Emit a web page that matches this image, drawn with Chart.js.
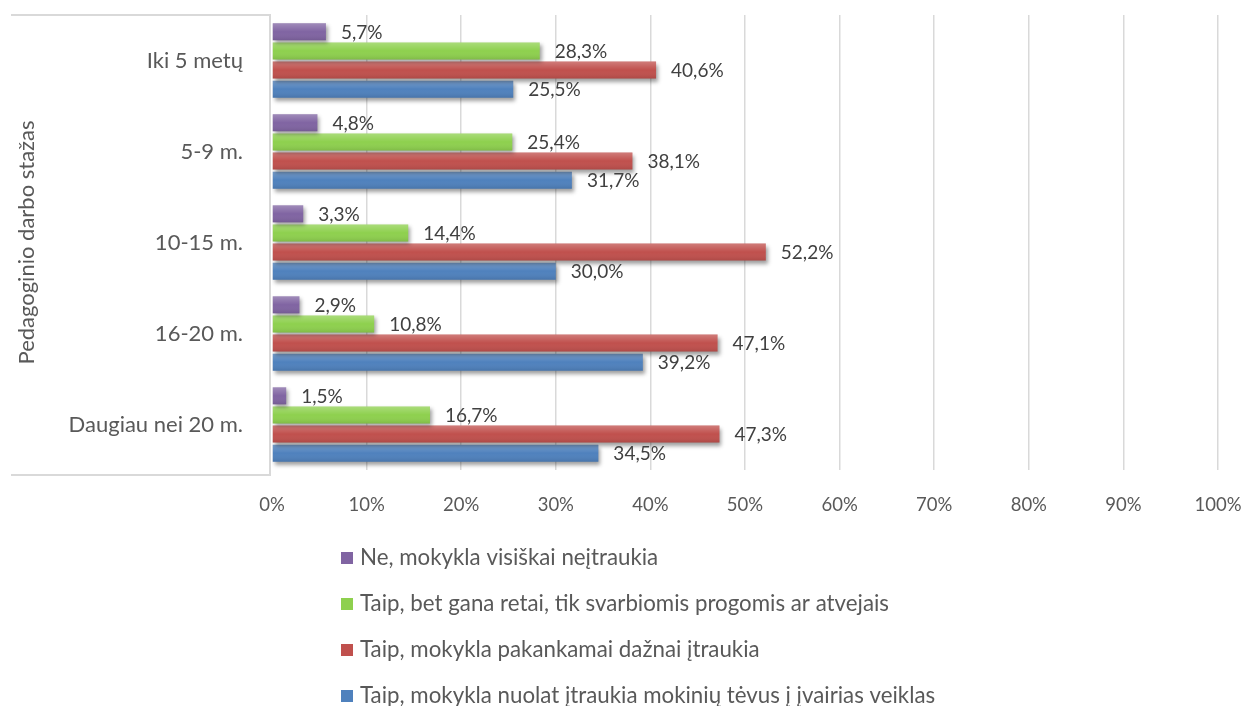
<!DOCTYPE html>
<html>
<head>
<meta charset="utf-8">
<script src="https://cdn.jsdelivr.net/npm/chart.js@4.4.1/dist/chart.umd.min.js"></script>
<style>
  html, body { margin: 0; padding: 0; background: #ffffff; }
  #wrap { width: 1249px; height: 706px; position: relative; }
</style>
</head>
<body>
<div id="wrap"><canvas id="c" width="1249" height="706"></canvas></div>
<script>
const categories = ['Iki 5 metų', '5-9 m.', '10-15 m.', '16-20 m.', 'Daugiau nei 20 m.'];
const seriesNames = [
  'Ne, mokykla visiškai neįtraukia',
  'Taip, bet gana retai, tik svarbiomis progomis ar atvejais',
  'Taip, mokykla pakankamai dažnai įtraukia',
  'Taip, mokykla nuolat įtraukia mokinių tėvus į įvairias veiklas'
];
const neValues      = [5.7, 4.8, 3.3, 2.9, 1.5];
const retaiValues   = [28.3, 25.4, 14.4, 10.8, 16.7];
const dazniValues   = [40.6, 38.1, 52.2, 47.1, 47.3];
const nuolatValues  = [25.5, 31.7, 30.0, 39.2, 34.5];
const xTicks = [0, 10, 20, 30, 40, 50, 60, 70, 80, 90, 100];
const axisTitle = 'Pedagoginio darbo stažas';

const colors = ['#8064A2', '#8ED04E', '#C0504D', '#4F81BD'];
const FONT = 'Lato, "Open Sans", sans-serif';

const shadowPlugin = {
  id: 'shadowPlugin',
  beforeDatasetDraw(chart) {
    const ctx = chart.ctx;
    ctx.save();
    ctx.shadowColor = 'rgba(0,0,0,0.38)';
    ctx.shadowBlur = 4;
    ctx.shadowOffsetX = 2;
    ctx.shadowOffsetY = 3;
  },
  afterDatasetDraw(chart, args) {
    const ctx = chart.ctx;
    ctx.restore();
    const meta = args.meta;
    ctx.save();
    meta.data.forEach(el => {
      const top = el.y - el.height / 2;
      const bottom = el.y + el.height / 2;
      const left = Math.min(el.base, el.x);
      const w = Math.abs(el.x - el.base);
      const g = ctx.createLinearGradient(0, top, 0, bottom);
      g.addColorStop(0, 'rgba(255,255,255,0.25)');
      g.addColorStop(0.5, 'rgba(255,255,255,0.0)');
      g.addColorStop(1, 'rgba(0,0,0,0.1)');
      ctx.fillStyle = g;
      ctx.fillRect(left, top, w, bottom - top);
    });
    ctx.restore();
  }
};

const boxPlugin = {
  id: 'boxPlugin',
  beforeDatasetsDraw(chart) {
    const ctx = chart.ctx;
    const a = chart.chartArea;
    ctx.save();
    ctx.strokeStyle = '#d9d9d9';
    ctx.lineWidth = 2;
    ctx.beginPath();
    ctx.moveTo(11, a.top);
    ctx.lineTo(a.left - 2, a.top);
    ctx.lineTo(a.left - 2, a.bottom + 5);
    ctx.lineTo(11, a.bottom + 5);
    ctx.stroke();
    ctx.restore();
  }
};

const labelPlugin = {
  id: 'labelPlugin',
  afterDatasetsDraw(chart) {
    const ctx = chart.ctx;
    ctx.save();
    ctx.font = '19px ' + FONT;
    ctx.fillStyle = '#404040';
    ctx.textAlign = 'left';
    ctx.textBaseline = 'middle';
    chart.data.datasets.forEach((ds, i) => {
      const meta = chart.getDatasetMeta(i);
      meta.data.forEach((el, j) => {
        const v = ds.data[j];
        ctx.fillText(v.toFixed(1).replace('.', ',') + '%', el.x + 15, el.y + 1);
      });
    });
    ctx.restore();
  }
};

const legendPlugin = {
  id: 'legendPlugin',
  afterDraw(chart) {
    const ctx = chart.ctx;
    const a = chart.chartArea;
    ctx.save();
    ctx.font = '22.3px ' + FONT;
    ctx.textAlign = 'left';
    ctx.textBaseline = 'middle';
    chart.data.datasets.forEach((ds, i) => {
      const y = a.bottom + 88 + i * 46;
      ctx.fillStyle = ds.backgroundColor;
      ctx.fillRect(341, y - 6, 12, 12);
      ctx.fillStyle = '#595959';
      ctx.fillText(ds.label, 360, y);
    });
    ctx.restore();
  }
};

const valueSets = [neValues, retaiValues, dazniValues, nuolatValues];

new Chart(document.getElementById('c'), {
  type: 'bar',
  data: {
    labels: categories,
    datasets: valueSets.map((vals, i) => ({
      label: seriesNames[i],
      data: vals,
      backgroundColor: colors[i],
      borderWidth: 0,
      categoryPercentage: 0.84,
      barPercentage: 0.89
    }))
  },
  options: {
    indexAxis: 'y',
    responsive: false,
    animation: false,
    devicePixelRatio: 1,
    layout: { padding: { left: 0, right: 31, top: 15, bottom: 176 } },
    plugins: {
      legend: { display: false },
      tooltip: { enabled: false },
      title: { display: false }
    },
    scales: {
      x: {
        min: 0,
        max: 100,
        afterBuildTicks(scale) { scale.ticks = xTicks.map(v => ({ value: v })); },
        afterFit(scale) {
          scale.height = 60;
          scale.paddingLeft = 0; scale.paddingRight = 0;
          scale.paddingTop = 0; scale.paddingBottom = 0;
        },
        border: { display: false },
        grid: {
          color: ctx => (ctx.tick && ctx.tick.value === 0) ? 'rgba(0,0,0,0)' : '#d9d9d9',
          lineWidth: 1.5,
          drawTicks: false
        },
        ticks: {
          padding: 24,
          color: '#595959',
          font: { size: 18.5, family: FONT },
          callback: v => v + '%',
          maxRotation: 0
        }
      },
      y: {
        afterFit(scale) {
          scale.width = 272;
          scale.paddingLeft = 0; scale.paddingRight = 0;
          scale.paddingTop = 0; scale.paddingBottom = 0;
        },
        border: { display: false },
        grid: { display: false, drawTicks: false },
        ticks: {
          padding: 29,
          color: '#595959',
          font: { size: 22, family: FONT }
        },
        title: {
          display: true,
          text: axisTitle,
          color: '#595959',
          font: { size: 22, family: FONT },
          padding: { top: 14, bottom: 0 }
        }
      }
    }
  },
  plugins: [boxPlugin, shadowPlugin, labelPlugin, legendPlugin]
});
</script>
</body>
</html>
